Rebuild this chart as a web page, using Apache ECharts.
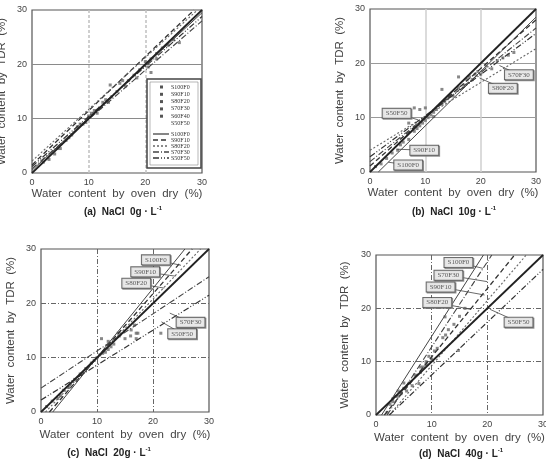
<!DOCTYPE html>
<html><head><meta charset="utf-8">
<script src="https://cdn.jsdelivr.net/npm/echarts@6/dist/echarts.min.js"></script>
<style>html,body{margin:0;padding:0;background:#fff}#c{width:546px;height:464px}</style>
</head><body><div id="c"></div>
<script>
// ---------- shared text ----------
const tickValues = [0, 10, 20, 30];
const legendPointNames = ['S100F0', 'S90F10', 'S80F20', 'S70F30', 'S60F40', 'S50F50'];
const lineNames = ['S100F0', 'S90F10', 'S80F20', 'S70F30', 'S50F50'];
const captions = ['(a)  NaCl  0g · L', '(b)  NaCl  10g · L', '(c)  NaCl  20g · L', '(d)  NaCl  40g · L'];
const xTitle = 'Water  content  by  oven  dry  (%)';
const yTitle = 'Water  content  by  TDR  (%)';
const oneToOne = [[0, 0], [30, 30]];

// ---------- panel (a) NaCl 0 g/L ----------
const aPoints = [[2,2],[3,2.5],[4,3.5],[4.5,4.5],[5,4.5],[6,6],[6.5,6.5],[7,7],[8,8.5],[8.5,9],[9,9],[9.5,9.3],
  [10,10.5],[10.5,11],[11,11.5],[11.5,11],[12,12],[12.5,13],[13,13.5],[13.5,13],[14,14],[13.8,16.2],[15,15],
  [15.5,16.5],[16,17],[16.5,16],[17,17],[18,18],[18.5,17.5],[19,19],[20,20.5],[20.5,19.5],[21,21],[21,18.5],
  [22,22],[22,21],[23,23],[24,23.5],[25,24.5],[26,24]];
const aFits = [[[0,0.5],[30,29.5]], [[0,1.5],[28.6,30]], [[0,2.2],[29.2,30]], [[0,0.8],[30,28]], [[0,1.2],[30,28.8]]];

// ---------- panel (b) NaCl 10 g/L ----------
const bPoints = [[1,1],[2,1.5],[3,2.5],[4,3.5],[5,4],[5.5,5],[6,5.5],[7,6],[7,9],[8,7.5],[8,11.8],[8.5,8],[9,8.5],
  [9,11.5],[9.5,9],[10,9.5],[10,11.8],[10.5,10],[11,10.5],[11.5,10.2],[11.5,11],[12,11.5],[13,12.5],[13,15.2],
  [13.5,13],[14,13.5],[14.5,14],[15,14],[16,15.5],[16,17.5],[17,16],[17.5,17],[18,17.5],[18.5,17],[19,18],
  [19.5,18.5],[20,18],[21,19.5],[21.7,14.7],[22,19],[23,20.5],[24,21],[25,21.5],[26,22]];
const bFits = [[[1.5,0],[30,28.5]], [[0,1.1],[30,28]], [[0,4],[30,22.7]], [[0,1.9],[30,26.5]], [[0,2.8],[30,25.5]]];
const bLabels = [['S70F30',26.9,17.9,23.4,19.6], ['S80F20',24,15.4,19.8,17.3], ['S50F50',4.8,10.8,8.7,9.6],
  ['S90F10',9.8,4,4.8,4.2], ['S100F0',6.9,1.3,3.3,1.8]];

// ---------- panel (c) NaCl 20 g/L ----------
const cPoints = [[1,1],[2,2],[3,2.5],[3.5,3],[4,4],[5,4.5],[6,6],[7,7],[8,8],[9,9],[9.5,9.5],[10,10],[10.5,10.5],
  [10.8,13.5],[11,10.8],[11.5,11],[12,11.5],[12,13],[12.5,12],[13,12.5],[13.8,14.5],[14,14],[15,13.5],[16,14],
  [16.1,15.1],[16.7,16],[17,14.5],[17.3,14.5],[17,13.5],[21.4,14.5]];
const cFits = [[[2.1,0],[25.7,30]], [[1.5,0],[27,30]], [[0.8,0],[28.5,30]], [[0,4.4],[30,24.9]], [[0,2.2],[30,21.5]]];
const cLabels = [['S100F0',20.5,28,25,27], ['S90F10',18.6,25.8,24,25], ['S80F20',17,23.7,22,22.8],
  ['S70F30',26.7,16.5,23,18.2], ['S50F50',25.2,14.4,21.5,16.6]];

// ---------- panel (d) NaCl 40 g/L ----------
const dPoints = [[2,0.5],[2.5,2],[3,2.5],[3,3],[3.5,3.5],[4,3.5],[4,4.5],[4.5,4],[5,5],[5,6],[5.5,4.5],[6,6],
  [6.5,5.5],[7,7.5],[7.7,5.9],[8,8],[8,9],[8.5,9],[9,9.5],[9,10],[9.5,11],[10,10.5],[10.5,12],[11,12.5],
  [12,14.5],[12.4,18.4],[12.5,15],[13,16],[14,17],[14.8,12.1],[15,18.5],[16,20]];
const dFits = [[[1,0],[19.3,30]], [[1.5,0],[24.9,30]], [[2.4,0],[27,30]], [[2,0],[20.8,30]], [[2.4,0],[30,27.3]]];
const dLabels = [['S100F0',14.8,28.6,19.2,27.5], ['S70F30',13,26.2,20,25], ['S90F10',11.6,24,19.5,22.5],
  ['S80F20',11,21.1,17,19.8], ['S50F50',25.6,17.4,20.5,19.8]];

// ---------- styling ----------
const fitStyles = [
  {color:'#444', width:1, type:'solid'},
  {color:'#333', width:1.3, type:[5,3]},
  {color:'#666', width:1.1, type:[2,2]},
  {color:'#444', width:1.1, type:[6,2,1,2]},
  {color:'#333', width:1.2, type:[6,2,1,2,1,2]}
];
const grids = [
  {left:32, top:10, width:170, height:163},
  {left:370, top:9, width:166, height:163},
  {left:41, top:249, width:168, height:163},
  {left:376, top:255, width:167, height:160}
];
const splitStyles = [
  [{color:'#c4c4c4', width:1.6, type:[3,2]}, {color:'#8a8a8a', width:1, type:'solid'}],
  [{color:'#cfcfcf', width:1.5, type:'solid'}, {color:'#9a9a9a', width:1, type:'solid'}],
  [{color:'#666', width:1, type:[5,2,1,2]}, {color:'#666', width:1, type:[5,2,1,2]}],
  [{color:'#666', width:1, type:[5,2,1,2]}, {color:'#666', width:1, type:[5,2,1,2]}]
];
const xGaps = [15, 15, 17, 17];
const yGaps = [24, 24, 24, 25];
const panelPoints = [aPoints, bPoints, cPoints, dPoints];
const panelFits = [aFits, bFits, cFits, dFits];
const panelLabels = [[], bLabels, cLabels, dLabels];
const captionPos = [[123,212],[454,212],[109,453],[461,454]];

const font = 'Liberation Sans, Arial, sans-serif';
const xAxes = [], yAxes = [], series = [];
grids.forEach((g, i) => {
  g.show = true; g.borderColor = '#555'; g.borderWidth = 1.2; g.backgroundColor = '#fff';
  g.outerBoundsMode = 'none'; g.containLabel = false;
  const common = {
    gridIndex: i, type: 'value', min: tickValues[0], max: tickValues[tickValues.length - 1], interval: 10,
    axisTick: {show: false}, axisLine: {show: false},
    axisLabel: {fontSize: 9, color: '#444', margin: 5, fontFamily: font},
    nameLocation: 'middle',
    nameTextStyle: {fontSize: 11.5, color: '#444', fontFamily: font}
  };
  xAxes.push(Object.assign({}, common, {
    name: xTitle, nameGap: xGaps[i],
    splitLine: {show: true, showMinLine: false, showMaxLine: false, lineStyle: splitStyles[i][0]}
  }));
  yAxes.push(Object.assign({}, common, {
    name: yTitle, nameGap: yGaps[i],
    splitLine: {show: true, showMinLine: false, showMaxLine: false, lineStyle: splitStyles[i][1]}
  }));
  series.push({
    type: 'scatter', xAxisIndex: i, yAxisIndex: i, data: panelPoints[i], symbol: 'rect', symbolSize: 3,
    itemStyle: {color: '#6a6a6a'}, z: 3, silent: true
  });
  panelFits[i].forEach((seg, k) => {
    series.push({
      type: 'line', name: lineNames[k], xAxisIndex: i, yAxisIndex: i, data: seg, symbol: 'none',
      lineStyle: fitStyles[k], z: 4, silent: true, clip: true
    });
  });
  series.push({
    type: 'line', xAxisIndex: i, yAxisIndex: i, data: oneToOne, symbol: 'none',
    lineStyle: {color: '#222', width: 1.8}, z: 5, silent: true
  });
  panelLabels[i].forEach(lb => {
    series.push({
      type: 'line', xAxisIndex: i, yAxisIndex: i, data: [[lb[1], lb[2]], [lb[3], lb[4]]], symbol: 'none',
      lineStyle: {color: '#444', width: 0.8}, z: 6, silent: true
    });
  });
  if (panelLabels[i].length) {
    series.push({
      type: 'scatter', xAxisIndex: i, yAxisIndex: i, symbolSize: 0, z: 7, silent: true,
      data: panelLabels[i].map(lb => ({name: lb[0], value: [lb[1], lb[2]]})),
      label: {
        show: true, position: 'inside', formatter: p => p.name, fontSize: 7, color: '#333',
        fontFamily: 'Liberation Serif, serif', backgroundColor: '#fff', borderColor: '#444', borderWidth: 1,
        padding: [1, 3, 1, 3], shadowColor: '#777', shadowOffsetX: 1, shadowOffsetY: 1
      }
    });
  }
});

// legend of panel (a) drawn as graphic
const graphic = [];
const lx = 147, ly = 79;
graphic.push({type:'rect', shape:{x:lx, y:ly, width:54, height:89}, style:{fill:'#fff', stroke:'#444', lineWidth:1.5}, z:20});
graphic.push({type:'rect', shape:{x:lx+3, y:ly+3, width:48, height:83}, style:{fill:'none', stroke:'#888', lineWidth:0.6}, z:20});
legendPointNames.forEach((n, k) => {
  const yy = ly + 8 + k * 7.3;
  if (k < 5) graphic.push({type:'rect', shape:{x:lx+13, y:yy-1.5, width:3, height:3}, style:{fill:'#555'}, z:21});
  graphic.push({type:'text', x:lx+24, y:yy, style:{text:n, fontSize:6, fill:'#333', verticalAlign:'middle', fontFamily:'Liberation Serif, serif'}, z:21});
});
lineNames.forEach((n, k) => {
  const yy = ly + 55 + k * 6;
  graphic.push({type:'line', shape:{x1:lx+6, y1:yy, x2:lx+22, y2:yy},
    style:{stroke:fitStyles[k].color, lineWidth:fitStyles[k].width + 0.3, lineDash: fitStyles[k].type === 'solid' ? null : fitStyles[k].type}, z:21});
  graphic.push({type:'text', x:lx+24, y:yy, style:{text:n, fontSize:6, fill:'#333', verticalAlign:'middle', fontFamily:'Liberation Serif, serif'}, z:21});
});
captions.forEach((c, i) => {
  graphic.push({type:'text', x:captionPos[i][0], y:captionPos[i][1], z:21, style:{
    text:'{m|' + c + '}{s|-1}', align:'center', verticalAlign:'middle',
    rich:{m:{fontSize:10, fontWeight:'bold', fill:'#222', fontFamily:font},
          s:{fontSize:6, fontWeight:'bold', fill:'#222', fontFamily:font, padding:[0,0,7,0]}}
  }});
});

const chart = echarts.init(document.getElementById('c'), null, {renderer:'canvas'});
chart.setOption({
  animation: false,
  backgroundColor: '#fff',
  grid: grids, xAxis: xAxes, yAxis: yAxes, series: series, graphic: graphic
});
</script></body></html>
